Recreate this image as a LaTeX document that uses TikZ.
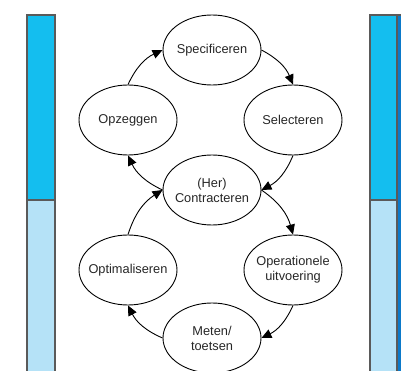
\documentclass[tikz,border=0pt]{standalone}
\usepackage{fontspec}
\setmainfont{Liberation Sans}
\usetikzlibrary{shapes.geometric,arrows.meta}
\definecolor{balkdonker}{HTML}{14BEEF}
\definecolor{balklicht}{HTML}{B5E2F7}
\definecolor{balkrand}{HTML}{5A5A5A}
\definecolor{balkblauw}{HTML}{0B79C9}
\begin{document}
\begin{tikzpicture}[x=1bp,y=1bp,
  fase/.style={ellipse, draw, line width=0.9bp, minimum width=98bp, minimum height=70bp, inner xsep=-10bp, inner ysep=0pt, align=center, text=black!85, font=\fontsize{12.8bp}{15bp}\selectfont},
  pijl/.style={line width=0.9bp, -{Triangle[length=10bp,width=9bp]}, bend left=20},
  balk/.style={draw=balkrand, line width=1.2bp}]
\useasboundingbox (0,0) rectangle (401,371);
% balken links en rechts
\draw[balk, fill=balklicht] (27,-5) rectangle (55,171);
\draw[balk, fill=balkdonker] (27,171) rectangle (55,356);
\draw[balk, fill=balklicht] (370,-5) rectangle (397,171);
\draw[balk, fill=balkdonker] (370,171) rectangle (397,356);
\draw[balk, fill=balkblauw] (397,-5) rectangle (420,356);
% fasen
\node[fase] (spec) at (212,321) {Specificeren};
\node[fase] (sel) at (293,251) {Selecteren};
\node[fase] (opz) at (128,251) {Opzeggen};
\node[fase] (contr) at (212,181) {(Her)\\Contracteren};
\node[fase] (oper) at (293,101) {Operationele\\uitvoering};
\node[fase] (opt) at (128,101) {Optimaliseren};
\node[fase] (meten) at (212,33) {Meten/\\toetsen};
% bovenste cirkel
\draw[pijl] (opz.north) to (spec.west);
\draw[pijl] (spec.east) to (sel.north);
\draw[pijl] (sel.south) to (contr.east);
\draw[pijl] (contr.west) to (opz.south);
% onderste cirkel
\draw[pijl] (contr.east) to (oper.north);
\draw[pijl] (oper.south) to (meten.east);
\draw[pijl] (meten.west) to (opt.south);
\draw[pijl] (opt.north) to (contr.west);
\end{tikzpicture}
\end{document}
